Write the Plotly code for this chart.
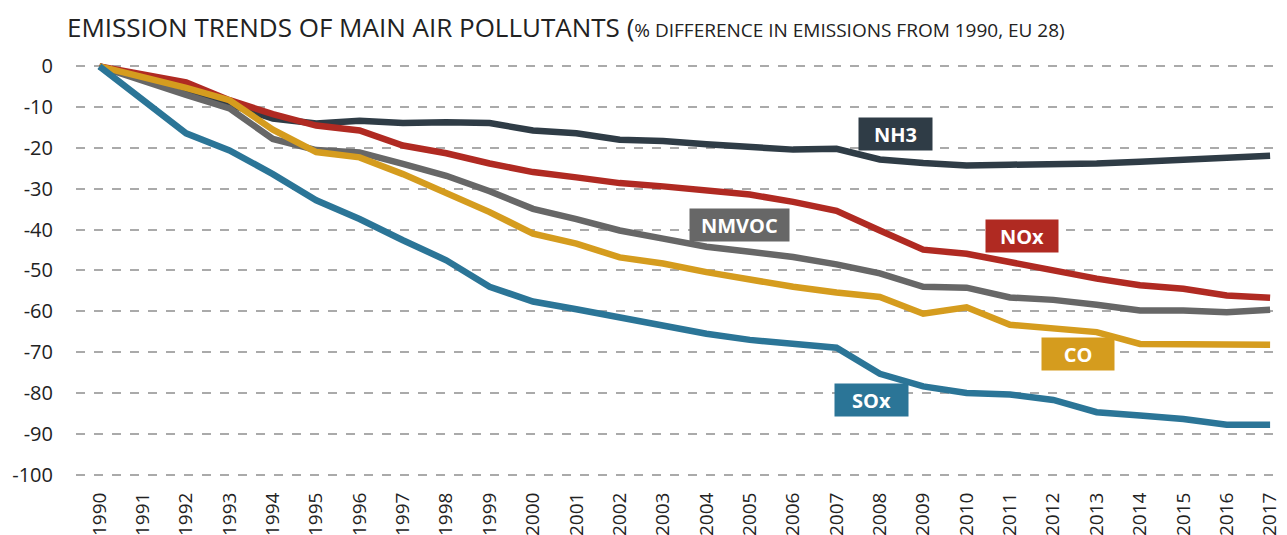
import plotly.graph_objects as go

years = list(range(1990, 2018))

sox = [0, -8.4, -16.4, -20.6, -26.4, -32.8, -37.4, -42.6, -47.5, -54.0, -57.6, -59.5, -61.5, -63.4, -65.5, -67.0, -68.0, -68.9, -75.3, -78.4, -80.0, -80.4, -81.7, -84.7, -85.5, -86.4, -87.8, -87.8]
co = [0, -2.6, -5.3, -8.3, -15.5, -21.0, -22.3, -26.4, -31.2, -35.7, -41.0, -43.4, -46.8, -48.3, -50.4, -52.3, -54.0, -55.4, -56.5, -60.6, -59.0, -63.3, -64.1, -65.1, -68.0, -68.1, -68.4, -68.2]
nmvoc = [0, -3.6, -7.0, -10.3, -17.8, -20.5, -21.1, -23.9, -26.8, -30.6, -34.9, -37.4, -40.2, -42.2, -44.2, -45.4, -46.7, -48.5, -50.7, -54.0, -54.2, -56.6, -57.2, -58.4, -59.8, -59.8, -60.2, -59.6]
nox = [0, -1.8, -3.9, -8.3, -11.7, -14.5, -15.7, -19.4, -21.3, -23.8, -25.9, -27.2, -28.6, -29.4, -30.4, -31.4, -33.2, -35.4, -40.2, -44.9, -45.9, -48.0, -50.0, -52.0, -53.6, -54.5, -56.1, -56.7]
nh3 = [0, -3.0, -6.3, -9.3, -12.8, -14.0, -13.3, -13.9, -13.7, -13.9, -15.7, -16.4, -18.0, -18.3, -19.1, -19.9, -20.4, -20.2, -22.8, -23.7, -24.3, -24.1, -24.1, -23.8, -23.4, -22.8, -22.4, -21.9]

series_names = ["NH3", "NMVOC", "NOx", "CO", "SOx"]
series_values = [nh3, nmvoc, nox, co, sox]
series_colors = ["#2f3c46", "#676767", "#b02a22", "#d59c1e", "#2b7597"]

# label boxes
label_x = [2008.37, 2004.77, 2011.28, 2012.57, 2007.81]
label_y = [-16.6, -38.9, -41.6, -70.5, -81.7]
label_w = [73, 99, 72, 72, 73]

y_ticks = [0, -10, -20, -30, -40, -50, -60, -70, -80, -90, -100]

fig = go.Figure()
for name, vals, col in zip(series_names, series_values, series_colors):
    fig.add_trace(go.Scatter(x=years, y=vals, mode="lines", name=name,
                             line=dict(color=col, width=6.5), showlegend=False,
                             hoverinfo="skip"))

for name, lx, ly, lw, col in zip(series_names, label_x, label_y, label_w, series_colors):
    fig.add_annotation(x=lx, y=ly, xref="x", yref="y", text="<b>%s</b>" % name,
                       showarrow=False, bgcolor=col, width=lw, height=32,
                       borderpad=0, align="center", valign="middle",
                       font=dict(family="Open Sans", size=20, color="white"))

fig.add_annotation(xref="paper", yref="paper", x=-0.0091, y=1.0, yshift=23,
                   xanchor="left", yanchor="middle", showarrow=False,
                   text="EMISSION TRENDS OF MAIN AIR POLLUTANTS (<span style='font-size:19px'>% DIFFERENCE IN EMISSIONS FROM 1990, EU 28)</span>",
                   font=dict(family="Open Sans", size=26, color="#222222"))

fig.update_layout(
    width=1279, height=527,
    margin=dict(l=68, r=0, t=42, b=527 - 42 - 433),
    paper_bgcolor="white", plot_bgcolor="white",
    font=dict(family="Open Sans", color="#222222"),
    xaxis=dict(range=[1989.46, 2017.39], tickmode="array", tickvals=years,
               ticktext=[str(y) for y in years], tickangle=-90,
               showgrid=False, zeroline=False, showline=False,
               ticks="outside", ticklen=1, tickcolor="rgba(0,0,0,0)",
               tickfont=dict(size=19, color="#222222"), automargin=False),
    yaxis=dict(range=[-102.05, 4], tickmode="array", tickvals=y_ticks,
               ticktext=[str(v) for v in y_ticks],
               showgrid=True, gridcolor="#aaaaaa", griddash="dash", gridwidth=1.5,
               zeroline=False, showline=False,
               ticks="outside", ticklen=18, tickcolor="rgba(0,0,0,0)",
               tickfont=dict(size=20, color="#222222"), automargin=False),
)

fig.write_html("out.html")
